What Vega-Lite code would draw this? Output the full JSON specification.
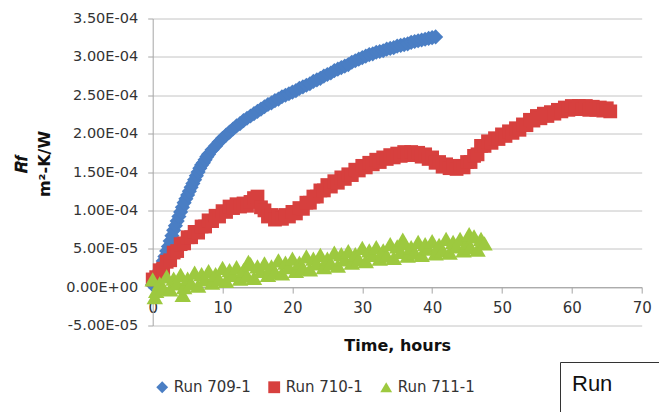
{
"$schema": "https://vega.github.io/schema/vega-lite/v6.json",
"width": 489, "height": 307,
"autosize": {"type": "none"},
"padding": {"left": 152.7, "top": 18.5, "right": 17.3, "bottom": 86.5},
"background": "white",
"config": {"view": {"stroke": null}, "font": "DejaVu Sans"},
"datasets": {
"b": [{"t":0,"r":0.3e-5},{"t":0.25,"r":0.7e-5},{"t":0.5,"r":1.1e-5},{"t":0.75,"r":1.6e-5},{"t":1,"r":2.2e-5},{"t":1.25,"r":2.8e-5},{"t":1.5,"r":3.4e-5},{"t":1.75,"r":4.0e-5},{"t":2,"r":4.7e-5},{"t":2.25,"r":5.3e-5},{"t":2.5,"r":6.0e-5},{"t":2.75,"r":6.7e-5},{"t":3,"r":7.4e-5},{"t":3.25,"r":8.0e-5},{"t":3.5,"r":8.6e-5},{"t":3.75,"r":9.2e-5},{"t":4,"r":9.8e-5},{"t":4.25,"r":10.4e-5},{"t":4.5,"r":11.0e-5},{"t":4.75,"r":11.5e-5},{"t":5,"r":12.0e-5},{"t":5.25,"r":12.5e-5},{"t":5.5,"r":13.0e-5},{"t":5.75,"r":13.5e-5},{"t":6,"r":14.0e-5},{"t":6.25,"r":14.5e-5},{"t":6.5,"r":15.0e-5},{"t":6.75,"r":15.5e-5},{"t":7,"r":15.9e-5},{"t":7.25,"r":16.2e-5},{"t":7.5,"r":16.6e-5},{"t":7.75,"r":17.0e-5},{"t":8,"r":17.3e-5},{"t":8.5,"r":17.9e-5},{"t":9,"r":18.4e-5},{"t":9.5,"r":18.9e-5},{"t":10,"r":19.4e-5},{"t":10.5,"r":19.8e-5},{"t":11,"r":20.2e-5},{"t":11.5,"r":20.6e-5},{"t":12,"r":21.0e-5},{"t":12.5,"r":21.3e-5},{"t":13,"r":21.7e-5},{"t":13.5,"r":22.0e-5},{"t":14,"r":22.3e-5},{"t":14.5,"r":22.6e-5},{"t":15,"r":22.9e-5},{"t":15.5,"r":23.2e-5},{"t":16,"r":23.5e-5},{"t":16.5,"r":23.8e-5},{"t":17,"r":24.0e-5},{"t":17.5,"r":24.3e-5},{"t":18,"r":24.5e-5},{"t":18.5,"r":24.8e-5},{"t":19,"r":25.0e-5},{"t":19.5,"r":25.2e-5},{"t":20,"r":25.4e-5},{"t":20.5,"r":25.6e-5},{"t":21,"r":25.9e-5},{"t":21.5,"r":26.1e-5},{"t":22,"r":26.3e-5},{"t":22.5,"r":26.5e-5},{"t":23,"r":26.8e-5},{"t":23.5,"r":27.0e-5},{"t":24,"r":27.2e-5},{"t":24.5,"r":27.5e-5},{"t":25,"r":27.7e-5},{"t":25.5,"r":27.9e-5},{"t":26,"r":28.2e-5},{"t":26.5,"r":28.4e-5},{"t":27,"r":28.6e-5},{"t":27.5,"r":28.8e-5},{"t":28,"r":29.0e-5},{"t":28.5,"r":29.3e-5},{"t":29,"r":29.5e-5},{"t":29.5,"r":29.7e-5},{"t":30,"r":29.9e-5},{"t":30.5,"r":30.1e-5},{"t":31,"r":30.3e-5},{"t":31.5,"r":30.4e-5},{"t":32,"r":30.6e-5},{"t":32.5,"r":30.7e-5},{"t":33,"r":30.8e-5},{"t":33.5,"r":31.0e-5},{"t":34,"r":31.1e-5},{"t":34.5,"r":31.2e-5},{"t":35,"r":31.4e-5},{"t":35.5,"r":31.5e-5},{"t":36,"r":31.6e-5},{"t":36.5,"r":31.7e-5},{"t":37,"r":31.9e-5},{"t":37.5,"r":32.0e-5},{"t":38,"r":32.1e-5},{"t":38.5,"r":32.2e-5},{"t":39,"r":32.3e-5},{"t":39.5,"r":32.4e-5},{"t":40,"r":32.5e-5},{"t":40.5,"r":32.6e-5}],
"r": [{"t":0,"r":1.0e-5},{"t":0.5,"r":1.3e-5},{"t":1,"r":2.2e-5},{"t":1.5,"r":2.4e-5},{"t":2,"r":3.3e-5},{"t":2.5,"r":3.5e-5},{"t":3,"r":4.5e-5},{"t":3.5,"r":4.7e-5},{"t":4,"r":5.6e-5},{"t":4.5,"r":5.7e-5},{"t":5,"r":6.5e-5},{"t":5.5,"r":6.5e-5},{"t":6,"r":7.2e-5},{"t":6.5,"r":7.1e-5},{"t":7,"r":7.9e-5},{"t":7.5,"r":7.9e-5},{"t":8,"r":8.7e-5},{"t":8.5,"r":8.6e-5},{"t":9,"r":9.3e-5},{"t":9.5,"r":9.2e-5},{"t":10,"r":9.9e-5},{"t":10.5,"r":9.8e-5},{"t":11,"r":10.5e-5},{"t":11.5,"r":10.3e-5},{"t":12,"r":10.8e-5},{"t":12.5,"r":10.5e-5},{"t":13,"r":10.9e-5},{"t":13.5,"r":10.6e-5},{"t":14,"r":11.1e-5},{"t":14.5,"r":11.6e-5},{"t":15,"r":11.8e-5},{"t":15.5,"r":10.4e-5},{"t":16,"r":10.0e-5},{"t":16.5,"r":9.2e-5},{"t":17,"r":9.4e-5},{"t":17.5,"r":8.8e-5},{"t":18,"r":9.2e-5},{"t":18.5,"r":8.9e-5},{"t":19,"r":9.4e-5},{"t":19.5,"r":9.2e-5},{"t":20,"r":9.8e-5},{"t":20.5,"r":9.6e-5},{"t":21,"r":10.3e-5},{"t":21.5,"r":10.2e-5},{"t":22,"r":11.0e-5},{"t":22.5,"r":11.0e-5},{"t":23,"r":11.8e-5},{"t":23.5,"r":11.8e-5},{"t":24,"r":12.6e-5},{"t":24.5,"r":12.6e-5},{"t":25,"r":13.3e-5},{"t":25.5,"r":13.1e-5},{"t":26,"r":13.8e-5},{"t":26.5,"r":13.6e-5},{"t":27,"r":14.3e-5},{"t":27.5,"r":14.1e-5},{"t":28,"r":14.7e-5},{"t":28.5,"r":14.6e-5},{"t":29,"r":15.3e-5},{"t":29.5,"r":15.2e-5},{"t":30,"r":15.8e-5},{"t":30.5,"r":15.6e-5},{"t":31,"r":16.2e-5},{"t":31.5,"r":16.0e-5},{"t":32,"r":16.6e-5},{"t":32.5,"r":16.3e-5},{"t":33,"r":16.9e-5},{"t":33.5,"r":16.7e-5},{"t":34,"r":17.2e-5},{"t":34.5,"r":16.9e-5},{"t":35,"r":17.4e-5},{"t":35.5,"r":17.1e-5},{"t":36,"r":17.6e-5},{"t":36.5,"r":17.2e-5},{"t":37,"r":17.6e-5},{"t":37.5,"r":17.2e-5},{"t":38,"r":17.5e-5},{"t":38.5,"r":17.0e-5},{"t":39,"r":17.3e-5},{"t":39.5,"r":16.7e-5},{"t":40,"r":16.9e-5},{"t":40.5,"r":16.2e-5},{"t":41,"r":16.3e-5},{"t":41.5,"r":15.7e-5},{"t":42,"r":16.0e-5},{"t":42.5,"r":15.5e-5},{"t":43,"r":15.8e-5},{"t":43.5,"r":15.4e-5},{"t":44,"r":15.8e-5},{"t":44.5,"r":15.6e-5},{"t":45,"r":16.3e-5},{"t":45.5,"r":16.3e-5},{"t":46,"r":17.1e-5},{"t":46.5,"r":17.3e-5},{"t":47,"r":18.4e-5},{"t":47.5,"r":18.4e-5},{"t":48,"r":19.0e-5},{"t":48.5,"r":18.8e-5},{"t":49,"r":19.4e-5},{"t":49.5,"r":19.3e-5},{"t":50,"r":19.9e-5},{"t":50.5,"r":19.7e-5},{"t":51,"r":20.3e-5},{"t":51.5,"r":20.1e-5},{"t":52,"r":20.7e-5},{"t":52.5,"r":20.5e-5},{"t":53,"r":21.2e-5},{"t":53.5,"r":21.1e-5},{"t":54,"r":21.8e-5},{"t":54.5,"r":21.7e-5},{"t":55,"r":22.3e-5},{"t":55.5,"r":22.0e-5},{"t":56,"r":22.6e-5},{"t":56.5,"r":22.3e-5},{"t":57,"r":22.8e-5},{"t":57.5,"r":22.6e-5},{"t":58,"r":23.1e-5},{"t":58.5,"r":22.9e-5},{"t":59,"r":23.4e-5},{"t":59.5,"r":23.1e-5},{"t":60,"r":23.6e-5},{"t":60.5,"r":23.2e-5},{"t":61,"r":23.6e-5},{"t":61.5,"r":23.2e-5},{"t":62,"r":23.6e-5},{"t":62.5,"r":23.1e-5},{"t":63,"r":23.5e-5},{"t":63.5,"r":23.1e-5},{"t":64,"r":23.4e-5},{"t":64.5,"r":23.0e-5},{"t":65,"r":23.3e-5},{"t":65.5,"r":22.9e-5}],
"g": [{"t":0,"r":1.0e-5},{"t":0.3,"r":-1.3e-5},{"t":0.5,"r":-0.5e-5},{"t":1,"r":0.5e-5},{"t":1.5,"r":-0.1e-5},{"t":2,"r":1.4e-5},{"t":2.5,"r":-0.3e-5},{"t":3,"r":1.1e-5},{"t":3.5,"r":0.5e-5},{"t":4,"r":1.6e-5},{"t":4.3,"r":-1.0e-5},{"t":4.5,"r":0.0},{"t":5,"r":1.1e-5},{"t":5.5,"r":0.5e-5},{"t":6,"r":1.9e-5},{"t":6.5,"r":0.2e-5},{"t":7,"r":1.7e-5},{"t":7.5,"r":1.0e-5},{"t":8,"r":2.1e-5},{"t":8.5,"r":0.6e-5},{"t":9,"r":1.7e-5},{"t":9.5,"r":1.0e-5},{"t":10,"r":2.5e-5},{"t":10.5,"r":0.8e-5},{"t":11,"r":2.2e-5},{"t":11.5,"r":1.6e-5},{"t":12,"r":2.6e-5},{"t":12.5,"r":1.1e-5},{"t":13,"r":2.2e-5},{"t":13.5,"r":1.5e-5},{"t":13.7,"r":3.3e-5},{"t":14,"r":3.0e-5},{"t":14.5,"r":1.2e-5},{"t":15,"r":2.7e-5},{"t":15.5,"r":2.1e-5},{"t":16,"r":3.1e-5},{"t":16.5,"r":1.6e-5},{"t":17,"r":2.7e-5},{"t":17.5,"r":2.0e-5},{"t":18,"r":3.5e-5},{"t":18.5,"r":1.8e-5},{"t":19,"r":3.2e-5},{"t":19.5,"r":2.6e-5},{"t":20,"r":3.7e-5},{"t":20.5,"r":2.1e-5},{"t":21,"r":3.2e-5},{"t":21.5,"r":2.5e-5},{"t":22,"r":4.0e-5},{"t":22.5,"r":2.3e-5},{"t":23,"r":3.7e-5},{"t":23.5,"r":3.1e-5},{"t":24,"r":4.2e-5},{"t":24.5,"r":2.6e-5},{"t":25,"r":3.7e-5},{"t":25.5,"r":3.1e-5},{"t":26,"r":4.5e-5},{"t":26.5,"r":2.8e-5},{"t":27,"r":4.3e-5},{"t":27.5,"r":3.6e-5},{"t":28,"r":4.7e-5},{"t":28.5,"r":3.2e-5},{"t":29,"r":4.3e-5},{"t":29.5,"r":3.6e-5},{"t":30,"r":5.1e-5},{"t":30.5,"r":3.4e-5},{"t":31,"r":4.8e-5},{"t":31.5,"r":4.2e-5},{"t":32,"r":5.2e-5},{"t":32.5,"r":3.7e-5},{"t":33,"r":4.8e-5},{"t":33.5,"r":4.1e-5},{"t":34,"r":5.6e-5},{"t":34.5,"r":3.8e-5},{"t":35,"r":5.3e-5},{"t":35.5,"r":4.6e-5},{"t":35.8,"r":6.2e-5},{"t":36,"r":5.7e-5},{"t":36.5,"r":4.1e-5},{"t":37,"r":5.2e-5},{"t":37.5,"r":4.5e-5},{"t":38,"r":5.9e-5},{"t":38.5,"r":4.2e-5},{"t":39,"r":5.6e-5},{"t":39.5,"r":5.0e-5},{"t":40,"r":6.0e-5},{"t":40.5,"r":4.4e-5},{"t":41,"r":5.5e-5},{"t":41.5,"r":4.8e-5},{"t":42,"r":6.3e-5},{"t":42.5,"r":4.5e-5},{"t":43,"r":5.9e-5},{"t":43.5,"r":5.3e-5},{"t":44,"r":6.3e-5},{"t":44.5,"r":4.8e-5},{"t":45,"r":5.8e-5},{"t":45.3,"r":6.9e-5},{"t":45.5,"r":5.2e-5},{"t":46,"r":6.6e-5},{"t":46.5,"r":4.9e-5},{"t":47,"r":6.3e-5},{"t":47.5,"r":5.7e-5}],
"box": [{"t":0,"r":0,"k":"Run"}]
},
"encoding": {
"x": {"field":"t","type":"quantitative","scale":{"domain":[0,70],"nice":false,"zero":false},
 "axis":{"values":[0,10,20,30,40,50,60,70],"format":"d","offset":-38.4,"grid":false,"labelFlush":false,"labelOverlap":false,
 "labelFont":"DejaVu Sans","labelFontSize":15,"labelColor":"#333","labelPadding":7,"tickSize":6,"tickColor":"#a6a6a6","domainColor":"#a6a6a6",
 "title":"Time, hours","titleFont":"DejaVu Sans","titleFontSize":16,"titleFontWeight":"bold","titleColor":"#111","titleY":50,"titleBaseline":"top"}},
"y": {"field":"r","type":"quantitative","scale":{"domain":[-0.00005,0.00035],"nice":false,"zero":false},
 "axis":{"values":[-0.00005,0,0.00005,0.0001,0.00015,0.0002,0.00025,0.0003,0.00035],
 "labelExpr":"replace(replace(replace(format(datum.value,'.2e'),'e-','E-0'),'e+','E+0'),'\u2212','-')",
 "labelFlush":false,"labelOverlap":false,"labelFont":"DejaVu Sans","labelFontSize":14.5,"labelColor":"#333","labelPadding":10,
 "tickSize":5,"tickColor":"#a6a6a6","domainColor":"#a6a6a6","grid":true,"gridColor":"#c4c4c4",
 "title":["𝑹𝒇","m²-K/W"],"titleFont":"DejaVu Sans","titleFontSize":16,"titleFontWeight":"bold","titleColor":"#111",
 "titleX":-123,"titleY":145,"titleAlign":"center","titleBaseline":"bottom","titleLineHeight":23}}
},
"layer": [
{"data":{"name":"b"},"mark":{"type":"point","filled":true,"opacity":1,"size":230},
 "encoding":{"color":{"datum":"Run 709-1","type":"nominal","scale":{"domain":["Run 709-1","Run 710-1","Run 711-1"],"range":["#4a7ec4","#d7403e","#9dc93f"]},
   "legend":{"title":null,"orient":"none","legendX":2,"legendY":361,"direction":"horizontal","columnPadding":15,"labelOffset":4,"symbolSize":140,"labelFont":"DejaVu Sans","labelFontSize":15,"labelColor":"#333","padding":0,"symbolStrokeWidth":0}},
  "shape":{"datum":"Run 709-1","type":"nominal","scale":{"domain":["Run 709-1","Run 710-1","Run 711-1"],"range":["diamond","square","triangle-up"]},
   "legend":{"title":null,"orient":"none","legendX":2,"legendY":361,"direction":"horizontal","columnPadding":15,"labelOffset":4,"symbolSize":140,"labelFont":"DejaVu Sans","labelFontSize":15,"labelColor":"#333","padding":0,"symbolStrokeWidth":0}}}},
{"data":{"name":"r"},"mark":{"type":"point","filled":true,"opacity":1,"size":190},
 "encoding":{"color":{"datum":"Run 710-1","type":"nominal"},"shape":{"datum":"Run 710-1","type":"nominal"}}},
{"data":{"name":"g"},"mark":{"type":"point","filled":true,"opacity":1,"size":270},
 "encoding":{"color":{"datum":"Run 711-1","type":"nominal"},"shape":{"datum":"Run 711-1","type":"nominal"}}},
{"data":{"name":"box"},"mark":{"type":"point","opacity":0},
 "encoding":{"size":{"field":"k","type":"ordinal","scale":{"range":[14000,14000]},
  "legend":{"title":"Run","orient":"none","legendX":407.3,"legendY":343.5,"padding":12,"strokeColor":"#333","fillColor":"white",
  "titleFont":"Liberation Sans","titleFontSize":22,"titleFontWeight":"normal","titleColor":"#111","titlePadding":6,
  "labelExpr":"''","labelFontSize":14,"symbolOpacity":0,"symbolStrokeWidth":0,"symbolType":"square"}}}}
]
}
